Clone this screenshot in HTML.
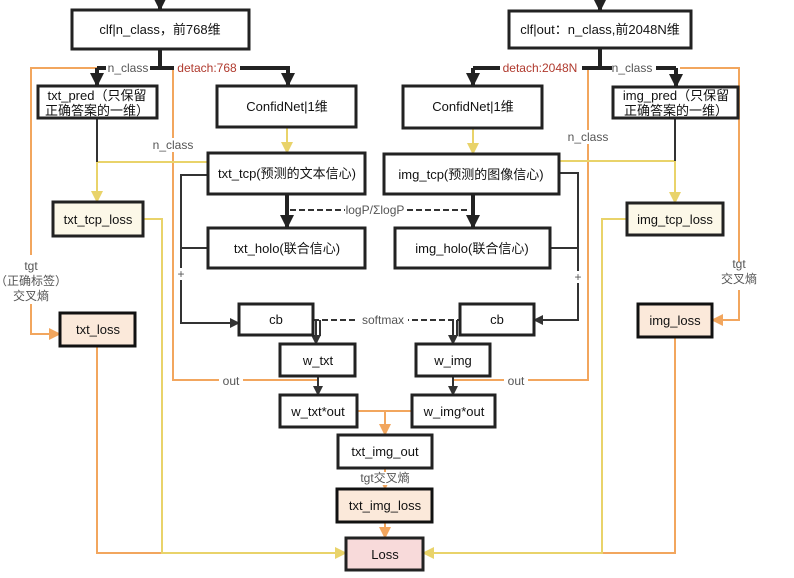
<!DOCTYPE html>
<html><head><meta charset="utf-8"><style>
html,body{margin:0;padding:0;background:#fff;}
svg{display:block;}
text{font-family:"Liberation Sans","Noto Sans CJK SC",sans-serif;font-size:13px;fill:#111;}
.l{fill:#555;font-size:12px;}
.r{fill:#b03a2e;font-size:12px;}
.b{fill:#fff;stroke:#222;stroke-width:3;}
.o{stroke:#f2a65e;stroke-width:2;fill:none;}
.y{stroke:#e9d36a;stroke-width:2;fill:none;}
.d{stroke:#333;stroke-width:2;fill:none;}
.t{stroke:#222;stroke-width:4;fill:none;}
.ds{stroke:#333;stroke-width:2;fill:none;stroke-dasharray:6,3;}
</style></head><body>
<svg width="794" height="578" viewBox="0 0 794 578" xmlns="http://www.w3.org/2000/svg">
<defs>
<marker id="ad" markerWidth="10" markerHeight="10" refX="9" refY="5" orient="auto" markerUnits="userSpaceOnUse"><path d="M0,0 L10,5 L0,10 z" fill="#333"/></marker>
<marker id="at" markerWidth="14" markerHeight="14" refX="13" refY="7" orient="auto" markerUnits="userSpaceOnUse"><path d="M0,0 L14,7 L0,14 z" fill="#222"/></marker>
<marker id="ao" markerWidth="12" markerHeight="12" refX="11" refY="6" orient="auto" markerUnits="userSpaceOnUse"><path d="M0,0 L12,6 L0,12 z" fill="#f2a65e"/></marker>
<marker id="ay" markerWidth="12" markerHeight="12" refX="11" refY="6" orient="auto" markerUnits="userSpaceOnUse"><path d="M0,0 L12,6 L0,12 z" fill="#e9d36a"/></marker>
</defs>

<path class="t" d="M160,0 V10" marker-end="url(#at)"/>
<path class="t" d="M600,0 V11" marker-end="url(#at)"/>

<path class="o" d="M97,68 H31 V255"/>
<path class="o" d="M31,304 V334 H60" marker-end="url(#ao)"/>
<path class="o" d="M173,68 V380 H318"/>
<path class="o" d="M97,346 V553 H162"/>
<path class="o" d="M680,68 H739 V262"/>
<path class="o" d="M739,290 V320 H712" marker-end="url(#ao)"/>
<path class="o" d="M588,68 V380 H453"/>
<path class="o" d="M675,337 V553 H602"/>
<path class="o" d="M357,411 H412"/>
<path class="o" d="M385,411 V435" marker-end="url(#ao)"/>
<path class="o" d="M385,468 V489" marker-end="url(#ao)"/>
<path class="o" d="M385,522 V538" marker-end="url(#ao)"/>

<path class="y" d="M208,162 H97 V202" marker-end="url(#ay)"/>
<path class="y" d="M287,127 V153" marker-end="url(#ay)"/>
<path class="y" d="M143,219 H162 V553 H346" marker-end="url(#ay)"/>
<path class="y" d="M559,161 H675 V203" marker-end="url(#ay)"/>
<path class="y" d="M473,128 V154" marker-end="url(#ay)"/>
<path class="y" d="M627,219 H602 V553 H423" marker-end="url(#ay)"/>

<path class="t" d="M160,49 V68"/>
<path class="t" d="M97,68 H290"/>
<path class="t" d="M97,68 V86" marker-end="url(#at)"/>
<path class="t" d="M288,68 V86" marker-end="url(#at)"/>
<path class="t" d="M600,48 V68"/>
<path class="t" d="M473,68 H676"/>
<path class="t" d="M473,68 V86" marker-end="url(#at)"/>
<path class="t" d="M676,68 V87" marker-end="url(#at)"/>
<path class="d" d="M97,118 V162"/>
<path class="d" d="M675,118 V161"/>

<path class="t" d="M287,194 V228" marker-end="url(#at)"/>
<path class="t" d="M473,194 V228" marker-end="url(#at)"/>
<path class="ds" d="M290,210 H470"/>

<path class="d" d="M208,175 H181 V323 H239" marker-end="url(#ad)"/>
<path class="d" d="M208,248 H181"/>
<path class="d" d="M559,173 H578 V320 H534" marker-end="url(#ad)"/>
<path class="d" d="M550,248 H578"/>

<path class="ds" d="M313,320 H460"/>
<path class="d" d="M316,320 V344" marker-end="url(#ad)"/>
<path class="d" d="M320,320 V336"/>
<path class="d" d="M453,320 V344" marker-end="url(#ad)"/>
<path class="d" d="M457,320 V336"/>
<path class="d" d="M318,376 V395" marker-end="url(#ad)"/>
<path class="d" d="M453,376 V395" marker-end="url(#ad)"/>

<rect class="b" x="72" y="10" width="177" height="39"/>
<text x="160" y="34" text-anchor="middle">clf|n_class，前768维</text>
<rect class="b" x="509" y="11" width="182" height="37"/>
<text x="600" y="34" text-anchor="middle">clf|out：n_class,前2048N维</text>
<rect class="b" x="38" y="86" width="119" height="32"/>
<text x="97" y="100" text-anchor="middle">txt_pred（只保留</text>
<text x="97" y="115" text-anchor="middle">正确答案的一维）</text>
<rect class="b" x="217" y="86" width="139" height="41"/>
<text x="287" y="111" text-anchor="middle">ConfidNet|1维</text>
<rect class="b" x="403" y="86" width="139" height="42"/>
<text x="473" y="111" text-anchor="middle">ConfidNet|1维</text>
<rect class="b" x="613" y="87" width="125" height="31"/>
<text x="676" y="100" text-anchor="middle">img_pred（只保留</text>
<text x="676" y="115" text-anchor="middle">正确答案的一维）</text>
<rect class="b" x="208" y="153" width="157" height="41"/>
<text x="287" y="178" text-anchor="middle">txt_tcp(预测的文本信心)</text>
<rect class="b" x="384" y="154" width="175" height="40"/>
<text x="471" y="179" text-anchor="middle">img_tcp(预测的图像信心)</text>
<rect class="b" x="53" y="202" width="90" height="34" style="fill:#fcf8e8"/>
<text x="98" y="224" text-anchor="middle">txt_tcp_loss</text>
<rect class="b" x="627" y="203" width="96" height="32" style="fill:#fcf8e8"/>
<text x="675" y="224" text-anchor="middle">img_tcp_loss</text>
<rect class="b" x="208" y="228" width="157" height="40"/>
<text x="287" y="253" text-anchor="middle">txt_holo(联合信心)</text>
<rect class="b" x="395" y="228" width="155" height="40"/>
<text x="472" y="253" text-anchor="middle">img_holo(联合信心)</text>
<rect class="b" x="60" y="313" width="75" height="33" style="fill:#fbe9da;stroke:#111"/>
<text x="98" y="334" text-anchor="middle">txt_loss</text>
<rect class="b" x="638" y="304" width="74" height="33" style="fill:#fbe9da;stroke:#111"/>
<text x="675" y="325" text-anchor="middle">img_loss</text>
<rect class="b" x="239" y="304" width="74" height="31"/>
<text x="276" y="324" text-anchor="middle">cb</text>
<rect class="b" x="460" y="304" width="74" height="31"/>
<text x="497" y="324" text-anchor="middle">cb</text>
<rect class="b" x="280" y="344" width="75" height="32"/>
<text x="318" y="365" text-anchor="middle">w_txt</text>
<rect class="b" x="416" y="344" width="74" height="32"/>
<text x="453" y="365" text-anchor="middle">w_img</text>
<rect class="b" x="280" y="395" width="77" height="32"/>
<text x="318" y="416" text-anchor="middle">w_txt*out</text>
<rect class="b" x="412" y="395" width="83" height="32"/>
<text x="454" y="416" text-anchor="middle">w_img*out</text>
<rect class="b" x="338" y="435" width="94" height="33"/>
<text x="385" y="456" text-anchor="middle">txt_img_out</text>
<rect class="b" x="337" y="489" width="95" height="33" style="fill:#fbe9da;stroke:#111"/>
<text x="385" y="510" text-anchor="middle">txt_img_loss</text>
<rect class="b" x="346" y="538" width="77" height="32" style="fill:#f8dada"/>
<text x="385" y="559" text-anchor="middle">Loss</text>

<rect x="106" y="61" width="44" height="14" fill="#fff"/>
<text class="l" x="128" y="72" text-anchor="middle">n_class</text>
<rect x="174" y="61" width="66" height="14" fill="#fff"/>
<text class="r" x="207" y="72" text-anchor="middle">detach:768</text>
<rect x="500" y="61" width="82" height="14" fill="#fff"/>
<text class="r" x="540" y="72" text-anchor="middle">detach:2048N</text>
<rect x="612" y="61" width="44" height="14" fill="#fff"/>
<text class="l" x="632" y="72" text-anchor="middle">n_class</text>
<rect x="152" y="138" width="44" height="14" fill="#fff"/>
<text class="l" x="173" y="149" text-anchor="middle">n_class</text>
<rect x="566" y="130" width="44" height="14" fill="#fff"/>
<text class="l" x="588" y="141" text-anchor="middle">n_class</text>
<text class="l" x="31" y="270" text-anchor="middle">tgt</text>
<text class="l" x="31" y="285" text-anchor="middle">（正确标签）</text>
<text class="l" x="31" y="300" text-anchor="middle">交叉熵</text>
<text class="l" x="739" y="268" text-anchor="middle">tgt</text>
<text class="l" x="739" y="283" text-anchor="middle">交叉熵</text>
<rect x="345" y="204" width="60" height="13" fill="#fff"/>
<text class="l" x="375" y="214" text-anchor="middle">logP/ΣlogP</text>
<rect x="358" y="314" width="50" height="13" fill="#fff"/>
<text class="l" x="383" y="324" text-anchor="middle">softmax</text>
<rect x="219" y="374" width="24" height="13" fill="#fff"/>
<text class="l" x="231" y="385" text-anchor="middle">out</text>
<rect x="504" y="374" width="24" height="13" fill="#fff"/>
<text class="l" x="516" y="385" text-anchor="middle">out</text>
<rect x="176" y="268" width="10" height="12" fill="#fff"/>
<text class="l" x="181" y="278" text-anchor="middle">+</text>
<rect x="573" y="271" width="10" height="12" fill="#fff"/>
<text class="l" x="578" y="281" text-anchor="middle">+</text>
<rect x="358" y="472" width="54" height="13" fill="#fff"/>
<text class="l" x="385" y="482" text-anchor="middle">tgt交叉熵</text>
</svg>
</body></html>
